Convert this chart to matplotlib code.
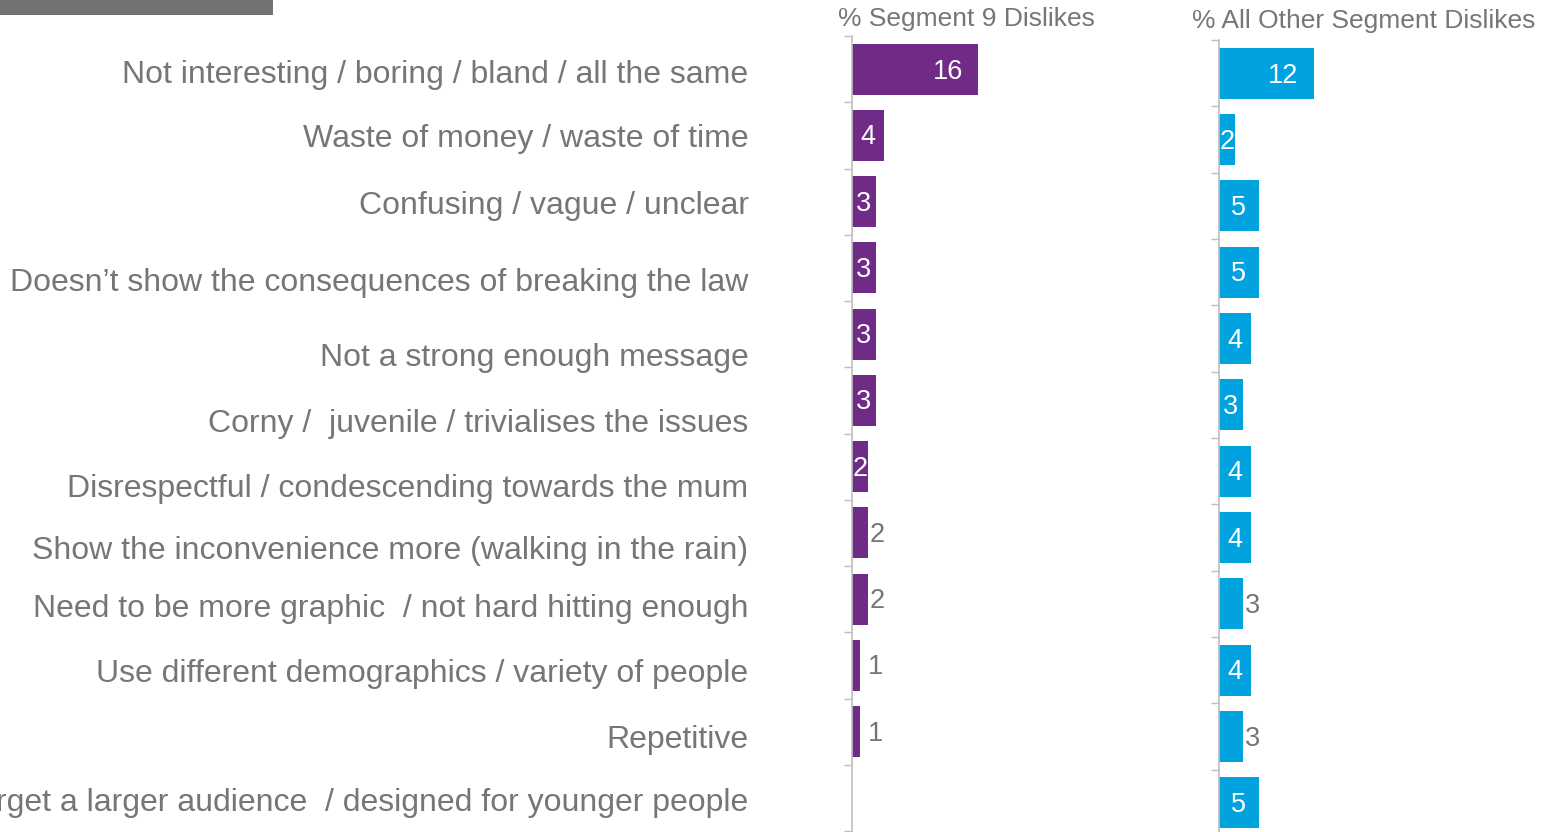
import matplotlib
matplotlib.use("Agg")
import matplotlib.pyplot as plt
import matplotlib.transforms as mtransforms
from matplotlib.patches import Rectangle
import numpy as np

plt.rcParams['font.family'] = ['Liberation Sans', 'DejaVu Sans']

categories = [
    "Not interesting / boring / bland / all the same",
    "Waste of money / waste of time",
    "Confusing / vague / unclear",
    "Doesn\u2019t show the consequences of breaking the law",
    "Not a strong enough message",
    "Corny /  juvenile / trivialises the issues",
    "Disrespectful / condescending towards the mum",
    "Show the inconvenience more (walking in the rain)",
    "Need to be more graphic  / not hard hitting enough",
    "Use different demographics / variety of people",
    "Repetitive",
    "Target a larger audience  / designed for younger people",
]
segment9 = [16, 4, 3, 3, 3, 3, 2, 2, 2, 1, 1, 0]
other_segments = [12, 2, 5, 5, 4, 3, 4, 4, 3, 4, 3, 5]
# where each value label sits: inside the bar (white) or just past its end (grey)
seg9_label_pos = ["in", "in", "in", "in", "in", "in", "in", "out", "out", "out", "out", None]
other_label_pos = ["in", "in", "in", "in", "in", "in", "in", "in", "out", "in", "out", "in"]
# vertical nudges (points) for the category labels
label_nudge = [1.5, 0, 0.7, 8.6, 14.4, 14.4, 13.7, 10.8, 4.3, 3.6, 3.6, 1.4]

PURPLE = "#702B87"
BLUE = "#00A2DF"
GREY_TEXT = "#767676"
SPINE = "#BFBFBF"

W, H = 1551, 832
fig = plt.figure(figsize=(W / 100, H / 100), dpi=100)

def px_axes(x0, x1, y_top, y_bot):
    return fig.add_axes([x0 / W, 1 - y_bot / H, (x1 - x0) / W, (y_bot - y_top) / H])

PX_PER_UNIT = 7.9
ax1 = px_axes(852, 1130, 36, 831)
ax2 = px_axes(1219, 1551, 40, 836)

n = len(categories)
y = np.arange(n)

def style_panel(ax, width_px):
    ax.set_xlim(0, width_px / PX_PER_UNIT)
    ax.set_ylim(n - 0.5, -0.5)
    for s in ("top", "right", "bottom"):
        ax.spines[s].set_visible(False)
    ax.spines["left"].set_color(SPINE)
    ax.spines["left"].set_linewidth(1.2)
    ax.set_xticks([])
    ax.set_yticks(np.arange(n + 1) - 0.5, minor=True)
    ax.tick_params(axis="y", which="minor", length=6, width=1.0, color=SPINE, direction="out")
    ax.patch.set_alpha(0)

def draw_bars(ax, values, color, positions):
    bars = ax.barh(y, values, height=0.77, color=color, edgecolor="none")
    for bar, v, pos in zip(bars, values, positions):
        if pos is None:
            continue
        cy = bar.get_y() + bar.get_height() / 2
        if pos == "in":
            if v >= 10:
                ax.annotate(str(v), (v, cy), xytext=(-11, -2), textcoords="offset points",
                            ha="right", va="center", color="white", fontsize=19.5)
            else:
                ax.annotate(str(v), (v / 2, cy), xytext=(0, -1.5), textcoords="offset points",
                            ha="center", va="center", color="white", fontsize=19.5)
        else:
            pad = 6 if v == 1 else 1.5
            ax.annotate(str(v), (v, cy), xytext=(pad, -1.5), textcoords="offset points",
                        ha="left", va="center", color=GREY_TEXT, fontsize=19.5)

style_panel(ax1, 1130 - 852)
style_panel(ax2, 1551 - 1219)
draw_bars(ax1, segment9, PURPLE, seg9_label_pos)
draw_bars(ax2, other_segments, BLUE, other_label_pos)

# category labels on the left panel
ax1.set_yticks(y)
ax1.set_yticklabels(categories, fontsize=23, color=GREY_TEXT)
ax1.tick_params(axis="y", which="major", length=0, pad=74.5)
for lbl, dy in zip(ax1.get_yticklabels(), label_nudge):
    lbl.set_transform(lbl.get_transform() + mtransforms.ScaledTranslation(0, -dy / 72, fig.dpi_scale_trans))
ax2.set_yticks([])

fig.text(966 / W, 1 - 19 / H, "% Segment 9 Dislikes", ha="center", va="center",
         fontsize=19, color=GREY_TEXT)
fig.text(1364 / W, 1 - 21 / H, "% All Other Segment Dislikes", ha="center", va="center",
         fontsize=19, color=GREY_TEXT)

fig.patches.append(Rectangle((0, 1 - 15 / H), 273 / W, 15 / H, transform=fig.transFigure,
                             facecolor="#737373", edgecolor="none"))

fig.savefig("out.png", dpi=100)
